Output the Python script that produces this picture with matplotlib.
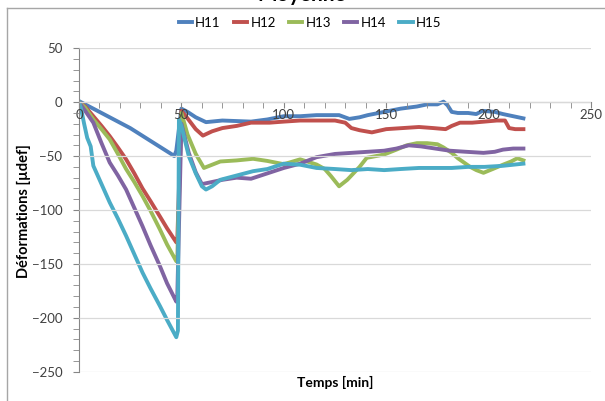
import matplotlib
matplotlib.use('Agg')
import matplotlib.pyplot as plt
from matplotlib.lines import Line2D

plt.rcParams['font.family'] = ['Lato', 'DejaVu Sans']

# temps [min] et deformations [udef]
t_h11 = [0, 5, 10, 15, 20, 25, 30, 35, 40, 45, 46.5, 47.5, 50, 53, 57, 62, 70, 84, 92, 100,
         108, 116, 123, 127, 132, 137, 141, 149, 157, 165, 170, 175, 178, 180, 182, 185,
         190, 194, 197, 203, 207, 212, 217]
v_h11 = [1, -4, -9, -14, -19, -24, -30, -36, -42, -48, -50, -45, -6, -9, -14, -18.5, -17, -18,
         -16, -13, -13, -12, -12, -12, -15.5, -14, -12, -9, -6, -4, -2, -2, 0.5, -3, -9, -10,
         -10, -11, -8, -9, -11, -13, -15]

t_h12 = [0, 3, 7, 11, 15, 19, 23, 27, 31, 35, 39.5, 43, 47.5, 48, 50, 53, 57, 60.5, 65, 70,
         77, 84, 93, 100, 108, 116, 125, 130, 133, 137, 143, 150, 158, 166, 173, 179, 182,
         186, 192, 198, 204, 208, 210, 213, 217]
v_h12 = [0, -4, -13, -22, -31.5, -42, -53, -66, -80, -92, -106, -117, -130, -128, -8, -15,
         -25, -31, -27, -24, -22, -19, -19, -18, -17, -17, -17, -19, -24, -26, -28, -25, -24,
         -23, -24, -25, -22, -19, -19, -18, -17, -17, -24, -25, -25]

t_h13 = [0, 3, 7, 11, 15, 19, 23, 27, 31, 35, 39.5, 43, 47.5, 48, 50, 53, 57, 61, 65, 69, 77,
         85, 92, 100, 108, 116, 120, 123, 127, 131, 134, 137, 140.5, 145, 149, 155, 160, 165,
         170, 175, 178, 182, 185, 188, 191, 194, 197.5, 202, 207, 211, 214, 217]
v_h13 = [0, -5, -16, -25, -34.5, -48, -62, -74, -87, -101, -118, -132, -147.5, -145, -10,
         -30, -48, -61, -58, -55, -54, -52.5, -54.5, -57.5, -53, -57.8, -62, -68.5, -78, -72,
         -66, -60, -51.6, -50, -48.5, -44, -40, -38, -38, -39, -42, -47, -52, -56, -60, -63,
         -65.5, -62, -58, -55, -52, -54]

t_h14 = [0, 3, 7, 11, 15, 19, 23, 27, 31, 35, 39.5, 43, 47.5, 48, 50, 53.6, 57, 60, 65, 70,
         77, 84, 92, 100, 108, 116, 125, 133, 141, 149, 155, 161, 167, 174, 181, 189, 197.5,
         203, 207, 212, 217]
v_h14 = [0, -8, -19, -38, -56, -68, -81, -98, -115, -133, -152, -168, -185, -180, -20, -47,
         -65, -76, -74, -72, -70, -71, -66, -61, -57, -51, -48, -47, -46, -45, -43, -40, -41,
         -43, -45, -46, -47, -46, -44, -43, -43]

t_h15 = [0, 1, 2.5, 4, 5.7, 7, 11, 15, 19, 23, 27, 31, 35, 39.5, 43, 47.5, 48.3, 48.8, 50,
         53.6, 57, 60, 62, 65, 69, 77, 85, 92, 100, 108, 116, 125, 133, 141, 149, 157, 166,
         174, 182, 190, 198, 207, 212, 217]
v_h15 = [0, -6, -20, -33, -41, -59, -76, -93, -108, -124, -141, -158, -173, -189, -202, -218,
         -212, -16, -22, -50, -66, -78, -81, -78, -72, -68, -64, -62, -57, -58, -61, -62, -63,
         -62, -63, -62, -61, -61, -61, -60, -60, -59, -58, -57]

series = [('H11', t_h11, v_h11, '#4F81BD'),
          ('H12', t_h12, v_h12, '#C0504D'),
          ('H13', t_h13, v_h13, '#9BBB59'),
          ('H14', t_h14, v_h14, '#8064A2'),
          ('H15', t_h15, v_h15, '#4BACC6')]

W, H = 605, 401
fig = plt.figure(figsize=(W / 100, H / 100), dpi=100)
ax = fig.add_axes([79 / W, 1 - 371.7 / H, 512 / W, 323.4 / H])

for name, t, v, c in series:
    ax.plot(t, v, color=c, lw=2.8, label=name, zorder=2)

ax.set_xlim(0, 250)
ax.set_ylim(-250, 50)
ax.set_xticks(range(0, 251, 50))
ax.set_xticks(range(0, 251, 10), minor=True)
ax.set_yticks(range(-250, 51, 50))
ax.set_yticks(range(-250, 51, 10), minor=True)
ax.set_axisbelow(False)
ax.grid(axis='y', color='#D9D9D9', lw=0.9)

for s in ['top', 'right']:
    ax.spines[s].set_visible(False)
ax.spines['bottom'].set_position(('data', 0))
ax.spines['bottom'].set_color('#868686')
ax.spines['left'].set_color('#868686')
ax.tick_params(which='both', direction='out', length=4, color='#868686',
               labelsize=9.5, labelcolor='#404040')
ax.tick_params(axis='y', pad=8)
ax.tick_params(axis='x', pad=1)

fig.text(302 / W, 1 - 1 / H, 'Moyenne', ha='center', va='baseline',
         fontsize=15, fontweight='bold')
fig.text(24 / W, 1 - 211 / H, 'Déformations [µdef]', rotation=90, ha='center',
         va='center', fontsize=10.5, fontweight='bold')
fig.text(335 / W, 1 - 382 / H, 'Temps [min]', ha='center', va='center',
         fontsize=10, fontweight='bold')

fig.legend(loc='center', bbox_to_anchor=(310 / W, 1 - 23 / H), ncol=5, frameon=False,
           fontsize=9.5, handlelength=1.0, handletextpad=0.25, columnspacing=1.0)

# cadre du graphique
fig.add_artist(Line2D([7 / W, 1], [1 - 8 / H, 1 - 8 / H], color='#A6A6A6', lw=1))
fig.add_artist(Line2D([7 / W, 7 / W], [0, 1 - 8 / H], color='#A6A6A6', lw=1))

fig.savefig('out.png', dpi=100)
